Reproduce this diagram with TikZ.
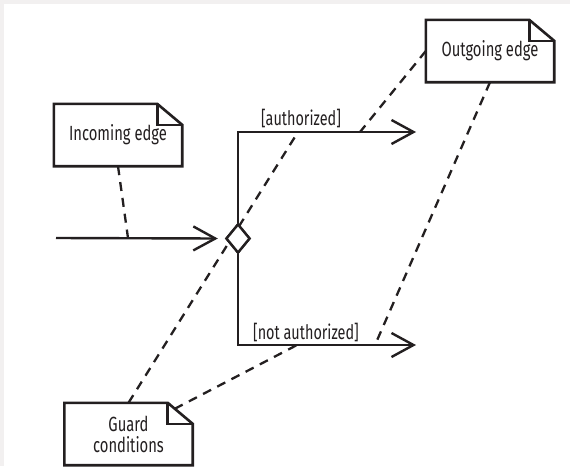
\documentclass[tikz,border=0pt]{standalone}
\usepackage{fontspec}
\setmainfont[FakeStretch=0.72]{Fira Sans}
\usetikzlibrary{arrows.meta,shapes.geometric,calc}
\definecolor{ink}{RGB}{35,31,32}
\definecolor{framegray}{RGB}{242,240,240}
\tikzset{
  notebox/.style={minimum width=128pt, minimum height=62pt, inner sep=0pt,
    align=center, font=\fontsize{20.5}{21}\selectfont, text=ink},
  notepen/.style={draw=ink, line width=2.6pt, line join=miter, fill=white},
  flow/.style={draw=ink, line width=2.4pt,
    -{Straight Barb[length=22pt, width=24pt, line width=2.4pt]}},
  anchorline/.style={draw=ink, line width=2.3pt, dash pattern=on 9pt off 7pt},
  guard/.style={font=\fontsize{20}{21}\selectfont, text=ink, inner sep=0pt, anchor=base},
  decision/.style={diamond, draw=ink, line width=2.4pt, fill=white, inner sep=0pt,
    minimum width=24pt, minimum height=29pt}
}
\begin{document}
\begin{tikzpicture}[x=1pt, y=-1pt]
  % canvas and thin frame strips
  \useasboundingbox (0,0) rectangle (570,466);
  \fill[white] (0,0) rectangle (570,466);
  \fill[framegray] (0,0) rectangle (570,4);
  \fill[framegray] (0,0) rectangle (4,466);

  % control flow
  \coordinate (src) at (56,238);
  \coordinate (yes) at (416,132);
  \coordinate (no) at (416,345);
  \node[decision] (dec) at (238,238.5) {};

  % points where the comment anchors touch the flows
  \coordinate (incpt) at (128,238);
  \coordinate (yesA) at (298,132);
  \coordinate (yesB) at (360,132);
  \coordinate (noA) at (297,345);
  \coordinate (noB) at (375,345);

  % comment anchors (drawn first so the notes and flows sit on top)
  \node[notebox] (inc) at (118,135) {Incoming edge};
  \node[notebox] (out) at (490,51) {Outgoing edge};
  \node[notebox] (grd) at (128.5,434) {Guard\\conditions};
  \coordinate (grdfold) at ([xshift=-18pt, yshift=-6pt]grd.north east);

  \draw[anchorline] (inc.south) -- (incpt);
  \draw[anchorline] (out.west) -- (yesB);
  \draw[anchorline] (out.south) -- (noB);
  \draw[anchorline] (grd.north) -- (yesA);
  \draw[anchorline] (grdfold) -- (noA);

  \draw[flow] (src) -- ([xshift=-7pt]dec.west);
  \draw[flow] (dec.north) |- (yes);
  \draw[flow] (dec.south) |- (no);
  \node[decision] at (dec) {};

  \node[guard] (lblyes) at (301,125) {[authorized]};
  \node[guard] (lblno) at (306,339) {[not authorized]};

  % note outlines with folded corner
  \foreach \n in {inc,out,grd} {
    \draw[notepen] (\n.north west) -- ([xshift=-25pt]\n.north east)
      -- ([yshift=-21pt]\n.north east) -- (\n.south east)
      -- (\n.south west) -- cycle;
    \draw[notepen, fill=none] ([xshift=-25pt]\n.north east)
      |- ([yshift=-21pt]\n.north east);
  }
  \node[notebox] at (inc) {Incoming edge};
  \node[notebox] at (out) {Outgoing edge};
  \node[notebox] at (grd) {Guard\\conditions};
\end{tikzpicture}
\end{document}
